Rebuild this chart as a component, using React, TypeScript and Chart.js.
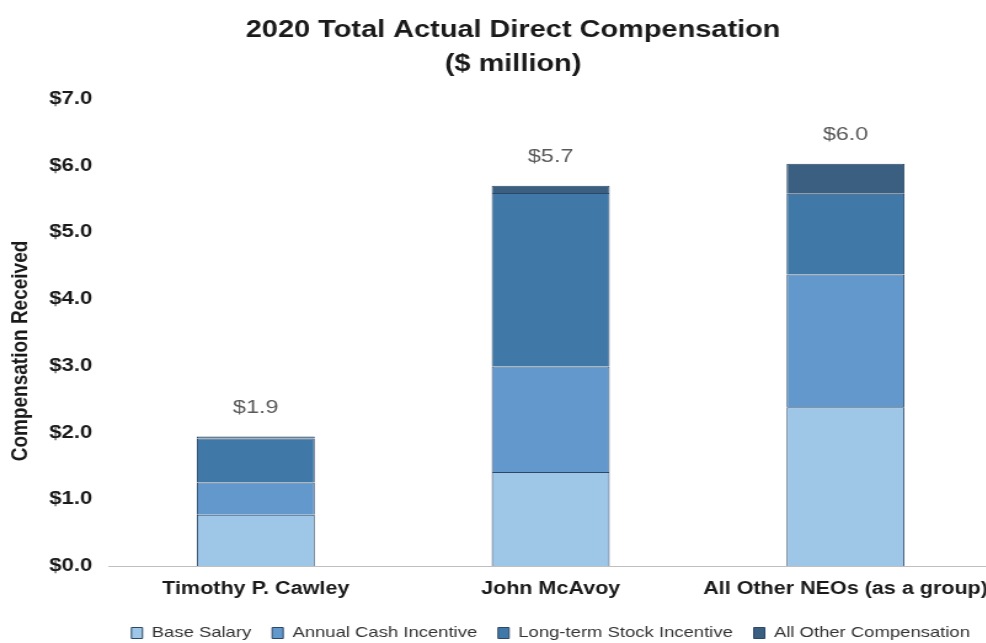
import React, { useEffect, useRef } from "react";
import { Chart, registerables } from "chart.js";

Chart.register(...registerables);

const categories = ["Timothy P. Cawley", "John McAvoy", "All Other NEOs (as a group)"];
const baseSalary = [0.77, 1.41, 2.38];
const annualCash = [0.48, 1.58, 1.99];
const longTermStock = [0.66, 2.6, 1.21];
const allOther = [0.03, 0.11, 0.45];
const yTicks = [0, 1, 2, 3, 4, 5, 6, 7];
const yAxisTitle = "Compensation Received";

const FONT = "'Liberation Sans', Arial, sans-serif";
const INNER_W = 807;
const OUTER_W = 993;
const H = 643;
const LEGEND_FONT = 15;
const LEGEND_PAD = 17;

const totalsPlugin = {
  id: "totals",
  afterDatasetsDraw(chart: any) {
    const { ctx } = chart;
    const lastMeta = chart.getDatasetMeta(chart.data.datasets.length - 1);
    ctx.save();
    ctx.font = `19px ${FONT}`;
    ctx.fillStyle = "#595959";
    ctx.textAlign = "center";
    ctx.textBaseline = "middle";
    categories.forEach((_, i) => {
      const total = baseSalary[i] + annualCash[i] + longTermStock[i] + allOther[i];
      const bar = lastMeta.data[i];
      ctx.fillText("$" + total.toFixed(1), bar.x, bar.y - 29);
    });
    ctx.restore();
  },
};

const yTitlePlugin = {
  id: "yTitle",
  afterDraw(chart: any) {
    const { ctx } = chart;
    ctx.save();
    ctx.translate(16.3, 351);
    ctx.rotate(-Math.PI / 2);
    ctx.font = `bold 19px ${FONT}`;
    ctx.fillStyle = "#1a1a1a";
    ctx.textAlign = "center";
    ctx.textBaseline = "middle";
    ctx.fillText(yAxisTitle, 0, 0);
    ctx.restore();
  },
};

const legendShift = {
  id: "legendShift",
  afterLayout(chart: any) {
    const lg = chart.legend;
    if (lg) {
      const h = lg.bottom - lg.top;
      lg.top = 633 - LEGEND_PAD - LEGEND_FONT / 2;
      lg.bottom = lg.top + h;
      const area = chart.chartArea;
      const dx = (area.left + area.right) / 2 - (lg.left + lg.right) / 2;
      lg.left += dx;
      lg.right += dx;
    }
  },
};

export default function App() {
  const ref = useRef<HTMLCanvasElement>(null);
  useEffect(() => {
    document.body.style.margin = "0";
    document.body.style.overflow = "hidden";
    const border = "#2c4866";
    const chart = new Chart(ref.current!, {
      type: "bar",
      data: {
        labels: categories,
        datasets: [
          { label: "Base Salary", data: baseSalary, backgroundColor: "#9dc6e7", borderColor: border, borderWidth: 1 },
          { label: "Annual Cash Incentive", data: annualCash, backgroundColor: "#6398cc", borderColor: border, borderWidth: 1 },
          { label: "Long-term Stock Incentive", data: longTermStock, backgroundColor: "#4079a7", borderColor: border, borderWidth: 1 },
          { label: "All Other Compensation", data: allOther, backgroundColor: "#3b5f81", borderColor: border, borderWidth: 1 },
        ],
      },
      options: {
        animation: false,
        responsive: false,
        devicePixelRatio: 1,
        layout: { padding: { left: 27, right: 0, top: 14, bottom: -12 } },
        datasets: { bar: { barPercentage: 0.4, categoryPercentage: 1 } },
        plugins: {
          title: {
            display: true,
            text: ["2020 Total Actual Direct Compensation", "($ million)"],
            font: { family: FONT, size: 23.5, weight: "bold", lineHeight: 1.447 },
            color: "#1a1a1a",
            padding: { top: 0, bottom: 17 },
          },
          legend: {
            position: "bottom",
            fullSize: true,
            labels: {
              font: { family: FONT, size: LEGEND_FONT },
              color: "#333333",
              boxWidth: 9,
              boxHeight: 11,
              padding: LEGEND_PAD,
            },
          },
          tooltip: { enabled: false },
        },
        scales: {
          x: {
            stacked: true,
            grid: { display: false, drawTicks: false },
            border: { display: true, color: "#bfbfbf", width: 1 },
            afterFit: (scale: any) => {
              scale.paddingLeft = 0;
              scale.paddingRight = 0;
            },
            ticks: {
              font: { family: FONT, size: 17.5, weight: "bold" },
              color: "#1a1a1a",
              padding: 13,
              maxRotation: 0,
              minRotation: 0,
              autoSkip: false,
            },
          },
          y: {
            stacked: true,
            min: 0,
            max: 7,
            afterBuildTicks: (axis: any) => {
              axis.ticks = yTicks.map((v) => ({ value: v }));
            },
            grid: { display: false, drawTicks: false },
            border: { display: false },
            ticks: {
              font: { family: FONT, size: 18, weight: "bold" },
              color: "#1a1a1a",
              padding: 13,
              callback: (v: any) => "$" + Number(v).toFixed(1),
            },
          },
        },
      },
      plugins: [totalsPlugin, yTitlePlugin, legendShift],
    });
    return () => chart.destroy();
  }, []);
  return (
    <div style={{ position: "absolute", left: 0, top: 0, width: OUTER_W, height: H }}>
      <canvas
        ref={ref}
        width={INNER_W}
        height={H}
        style={{ width: OUTER_W + "px", height: H + "px", display: "block" }}
      />
    </div>
  );
}
